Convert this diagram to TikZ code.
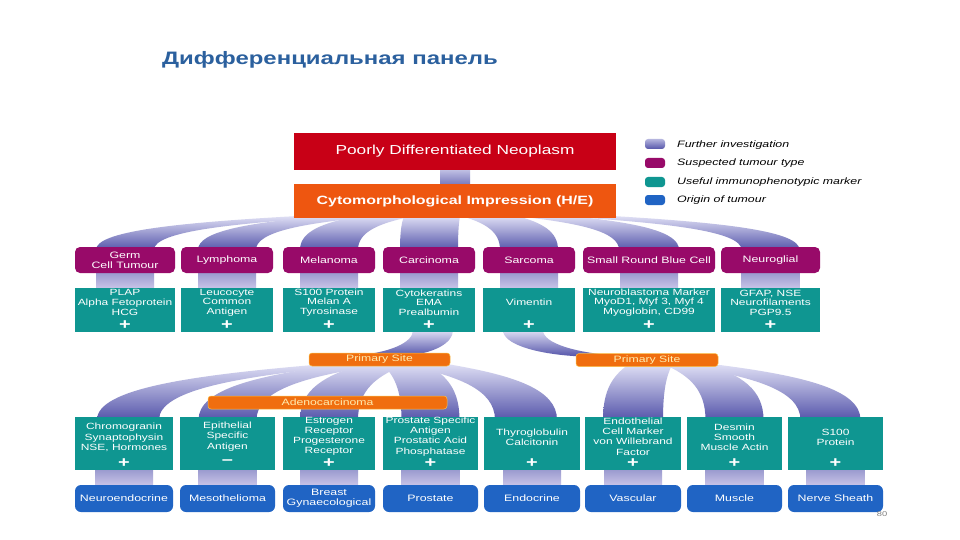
\documentclass[tikz,border=0pt]{standalone}
\usepackage{fontspec}
\setmainfont{Liberation Sans}[FakeStretch=1.33]
\usetikzlibrary{calc}
\definecolor{redbox}{RGB}{200,0,22}
\definecolor{cytobox}{RGB}{238,86,16}
\definecolor{psbox}{RGB}{240,110,15}
\definecolor{psedge}{RGB}{250,190,70}
\definecolor{pstext}{RGB}{255,236,175}
\definecolor{purp}{RGB}{152,10,105}
\definecolor{tealc}{RGB}{15,150,145}
\definecolor{bluec}{RGB}{32,100,196}
\definecolor{bandtop}{RGB}{222,222,244}
\definecolor{bandbot}{RGB}{85,85,170}
\definecolor{conntop}{RGB}{150,150,204}
\definecolor{connbot}{RGB}{205,200,234}
\definecolor{titleblue}{RGB}{43,96,158}
\pgfdeclarelayer{bg}
\pgfsetlayers{bg,main}
\newcommand\fanband[6]{%
 \path[band] let \p1=($(#1.south)+(#2,-2)$), \p2=($(#4.north)+(#5,3)$) in
 ({\x1-#3pt},\y1) .. controls ({\x1-#3pt+0.6*(\x2-#6pt-\x1+#3pt)},{\y1-0.2*(\y1-\y2)}) and ({\x2-#6pt},{\y1-0.45*(\y1-\y2)}) .. ({\x2-#6pt},\y2)
 -- ({\x2+#6pt},\y2) .. controls ({\x2+#6pt},{\y1-0.45*(\y1-\y2)}) and ({\x1+#3pt+0.6*(\x2+#6pt-\x1-#3pt)},{\y1-0.2*(\y1-\y2)}) .. ({\x1+#3pt},\y1) -- cycle;}
\newcommand\fanbandr[6]{%
 \path[band] let \p1=($(#1.south)+(#2,-2)$), \p2=($(#4.north)+(#5,3)$) in
 ({\x1-#3pt},\y1) .. controls ({\x1-#3pt},{\y1-0.5*(\y1-\y2)}) and ({\x1-#3pt+0.4*(\x2-#6pt-\x1+#3pt)},{\y2+0.1*(\y1-\y2)}) .. ({\x2-#6pt},\y2)
 -- ({\x2+#6pt},\y2) .. controls ({\x1+#3pt+0.4*(\x2+#6pt-\x1-#3pt)},{\y2+0.1*(\y1-\y2)}) and ({\x1+#3pt},{\y1-0.5*(\y1-\y2)}) .. ({\x1+#3pt},\y1) -- cycle;}
\begin{document}
\begin{tikzpicture}[x=1pt,y=-1pt,
  band/.style={top color=bandtop, bottom color=bandbot},
  conn/.style={top color=conntop, bottom color=connbot},
  conntwo/.style={top color=bandtop!80!bandbot, bottom color=bandbot!80!white},
  purpbox/.style={fill=purp, rounded corners=5pt, minimum height=26pt, inner sep=0pt, text=white, align=center, font=\fontsize{9.3}{10}\selectfont},
  tealbox/.style={fill=tealc, minimum height=44pt, inner sep=0pt},
  tealboxb/.style={fill=tealc, minimum height=53pt, inner sep=0pt},
  bluebox/.style={fill=bluec, rounded corners=6pt, minimum height=27pt, inner sep=0pt, text=white, align=center, font=\fontsize{9.3}{10}\selectfont},
  txtm/.style={text=white, align=center, inner sep=0pt, font=\fontsize{9}{9.6}\selectfont},
  txtr/.style={text=white, align=center, inner sep=0pt, font=\fontsize{9}{10.2}\selectfont},
  plussign/.style={text=white, inner sep=0pt, font=\fontsize{15}{15}\bfseries\selectfont},
  orbox/.style={fill=psbox, draw=psedge, line width=0.5pt, rounded corners=3pt, minimum height=13pt, inner sep=0pt, text=pstext, font=\fontsize{9.2}{10}\selectfont},
  swatch/.style={rounded corners=3pt, minimum width=20pt, minimum height=10pt, inner sep=0pt},
  legtxt/.style={anchor=west, inner sep=0pt, font=\fontsize{9.3}{10}\itshape\selectfont}
]
\begin{pgfonlayer}{bg}
\fill[white] (0,0) rectangle (960,540);
\end{pgfonlayer}
\useasboundingbox (0,0) rectangle (960,540);

% title
\node[anchor=west, inner sep=0pt, text=titleblue, font=\fontsize{18}{20}\bfseries\selectfont] (title) at (162,60) {Дифференциальная панель};

% top boxes
\node[fill=redbox, minimum width=322pt, minimum height=37pt, inner sep=0pt, text=white, font=\fontsize{13}{15}\selectfont] (pdn) at (455,151.5) {Poorly Differentiated Neoplasm};
\node[fill=cytobox, minimum width=322pt, minimum height=34pt, inner sep=0pt, text=white, font=\fontsize{12}{14}\bfseries\selectfont] (cyto) at (455,201) {Cytomorphological Impression (H/E)};

% legend
\node[swatch, top color=bandtop!70!bandbot, bottom color=bandbot] (lg1) at (655,144) {};
\node[swatch, fill=purp] (lg2) at (655,163) {};
\node[swatch, fill=tealc] (lg3) at (655,182) {};
\node[swatch, fill=bluec] (lg4) at (655,200) {};
\node[legtxt] (lt1) at (677,145) {Further investigation};
\node[legtxt] (lt2) at (677,163) {Suspected tumour type};
\node[legtxt] (lt3) at (677,182) {Useful immunophenotypic marker};
\node[legtxt] (lt4) at (677,200) {Origin of tumour};

% row 1
\node[purpbox, minimum width=100pt] (t1) at (125,260) {Germ\\Cell Tumour};
\node[purpbox, minimum width=92pt] (t2) at (227,260) {Lymphoma};
\node[purpbox, minimum width=92pt] (t3) at (329,260) {Melanoma};
\node[purpbox, minimum width=92pt] (t4) at (429,260) {Carcinoma};
\node[purpbox, minimum width=92pt] (t5) at (529,260) {Sarcoma};
\node[purpbox, minimum width=132pt] (t6) at (649,260) {Small Round Blue Cell};
\node[purpbox, minimum width=99pt] (t7) at (770.5,260) {Neuroglial};

% row 2
\node[tealbox, minimum width=100pt] (m1) at (125,310) {};
\node[tealbox, minimum width=92pt] (m2) at (227,310) {};
\node[tealbox, minimum width=92pt] (m3) at (329,310) {};
\node[tealbox, minimum width=92pt] (m4) at (429,310) {};
\node[tealbox, minimum width=92pt] (m5) at (529,310) {};
\node[tealbox, minimum width=132pt] (m6) at (649,310) {};
\node[tealbox, minimum width=99pt] (m7) at (770.5,310) {};
\node[txtm] (m1t) at (125,302.5) {PLAP\\Alpha Fetoprotein\\HCG};
\node[txtm] (m2t) at (227,302.5) {Leucocyte\\Common\\Antigen};
\node[txtm] (m3t) at (329,302.5) {S100 Protein\\Melan A\\Tyrosinase};
\node[txtm] (m4t) at (429,302.5) {Cytokeratins\\EMA\\Prealbumin};
\node[txtm] (m5t) at (529,302.5) {Vimentin};
\node[txtm] (m6t) at (649,302.5) {Neuroblastoma Marker\\MyoD1, Myf 3, Myf 4\\Myoglobin, CD99};
\node[txtm] (m7t) at (770.5,302.5) {GFAP, NSE\\Neurofilaments\\PGP9.5};
\foreach \i/\x in {1/125,2/227,3/329,4/429,5/529,6/649,7/770.5}
  \node[plussign] (m\i p) at (\x,325) {+};

% primary sites
\node[orbox, minimum width=141pt] (ps1) at (379.5,359.5) {Primary Site};
\node[orbox, minimum width=142pt] (ps2) at (647,360) {Primary Site};
\node[orbox, minimum width=239pt] (adeno) at (327.5,402.5) {Adenocarcinoma};

% row 3
\node[tealboxb, minimum width=98pt] (r1) at (124,443.5) {};
\node[tealboxb, minimum width=95pt] (r2) at (227.5,443.5) {};
\node[tealboxb, minimum width=92pt] (r3) at (329,443.5) {};
\node[tealboxb, minimum width=95pt] (r4) at (430.5,443.5) {};
\node[tealboxb, minimum width=96pt] (r5) at (532,443.5) {};
\node[tealboxb, minimum width=96pt] (r6) at (633,443.5) {};
\node[tealboxb, minimum width=95pt] (r7) at (734.5,443.5) {};
\node[tealboxb, minimum width=95pt] (r8) at (835.5,443.5) {};
\node[txtr] (r1t) at (124,437.5) {Chromogranin\\Synaptophysin\\NSE, Hormones};
\node[txtr] (r2t) at (227.5,436.5) {Epithelial\\Specific\\Antigen};
\node[txtr] (r3t) at (329,436.5) {Estrogen\\Receptor\\Progesterone\\Receptor};
\node[txtr] (r4t) at (430.5,436.5) {Prostate Specific\\Antigen\\Prostatic Acid\\Phosphatase};
\node[txtr] (r5t) at (532,437.5) {Thyroglobulin\\Calcitonin};
\node[txtr] (r6t) at (633,436.5) {Endothelial\\Cell Marker\\von Willebrand\\Factor};
\node[txtr] (r7t) at (734.5,437.5) {Desmin\\Smooth\\Muscle Actin};
\node[txtr] (r8t) at (835.5,437.5) {S100\\Protein};
\foreach \i/\x in {1/124,3/329,4/430.5,5/532,6/633,7/734.5,8/835.5}
  \node[plussign] (r\i p) at (\x,463.5) {+};
\node[plussign] (r2p) at (227.5,462.5) {–};

% row 4
\node[bluebox, minimum width=98pt] (b1) at (124,498.5) {Neuroendocrine};
\node[bluebox, minimum width=95pt] (b2) at (227.5,498.5) {Mesothelioma};
\node[bluebox, minimum width=92pt] (b3) at (329,498.5) {Breast\\Gynaecological};
\node[bluebox, minimum width=95pt] (b4) at (430.5,498.5) {Prostate};
\node[bluebox, minimum width=96pt] (b5) at (532,498.5) {Endocrine};
\node[bluebox, minimum width=96pt] (b6) at (633,498.5) {Vascular};
\node[bluebox, minimum width=95pt] (b7) at (734.5,498.5) {Muscle};
\node[bluebox, minimum width=95pt] (b8) at (835.5,498.5) {Nerve Sheath};

\node[inner sep=0pt, text=gray, font=\fontsize{7}{8}\selectfont] (pg) at (882,514) {80};

% connectors
\begin{pgfonlayer}{bg}
\path[conntwo] ($(pdn.south)+(-15,-1)$) rectangle ($(cyto.north)+(15,1)$);
\fanband{cyto}{-133}{28}{t1}{0}{29}
\fanband{cyto}{-105}{28}{t2}{0}{29}
\fanband{cyto}{-70}{28}{t3}{0}{29}
\fanband{cyto}{-23}{28}{t4}{0}{29}
\fanband{cyto}{35}{28}{t5}{0}{29}
\fanband{cyto}{90}{28}{t6}{0}{30}
\fanband{cyto}{133}{28}{t7}{0}{29}
\foreach \i in {1,...,7}
  \path[conn] ($(t\i.south)+(-29,-2)$) rectangle ($(m\i.north)+(29,2)$);
\fanbandr{m4}{4}{20}{ps1}{0}{27}
\fanbandr{m5}{-6}{20}{ps2}{-46}{24}
\fanband{ps1}{-35}{22}{r1}{4}{31}
\fanband{ps1}{-15}{22}{r2}{0}{29}
\fanband{ps1}{5}{22}{r3}{0}{29}
\fanband{ps1}{25}{22}{r4}{0}{29}
\fanband{ps1}{45}{24}{r5}{-6}{31}
\fanband{ps2}{3}{22}{r6}{0}{30}
\fanband{ps2}{40}{22}{r7}{0}{29}
\fanband{ps2}{50}{21}{r8}{-5}{30}
\foreach \i in {1,...,8}
  \path[conn] ($(r\i.south)+(-29,-2)$) rectangle ($(b\i.north)+(29,2)$);
\end{pgfonlayer}
\end{tikzpicture}
\end{document}
